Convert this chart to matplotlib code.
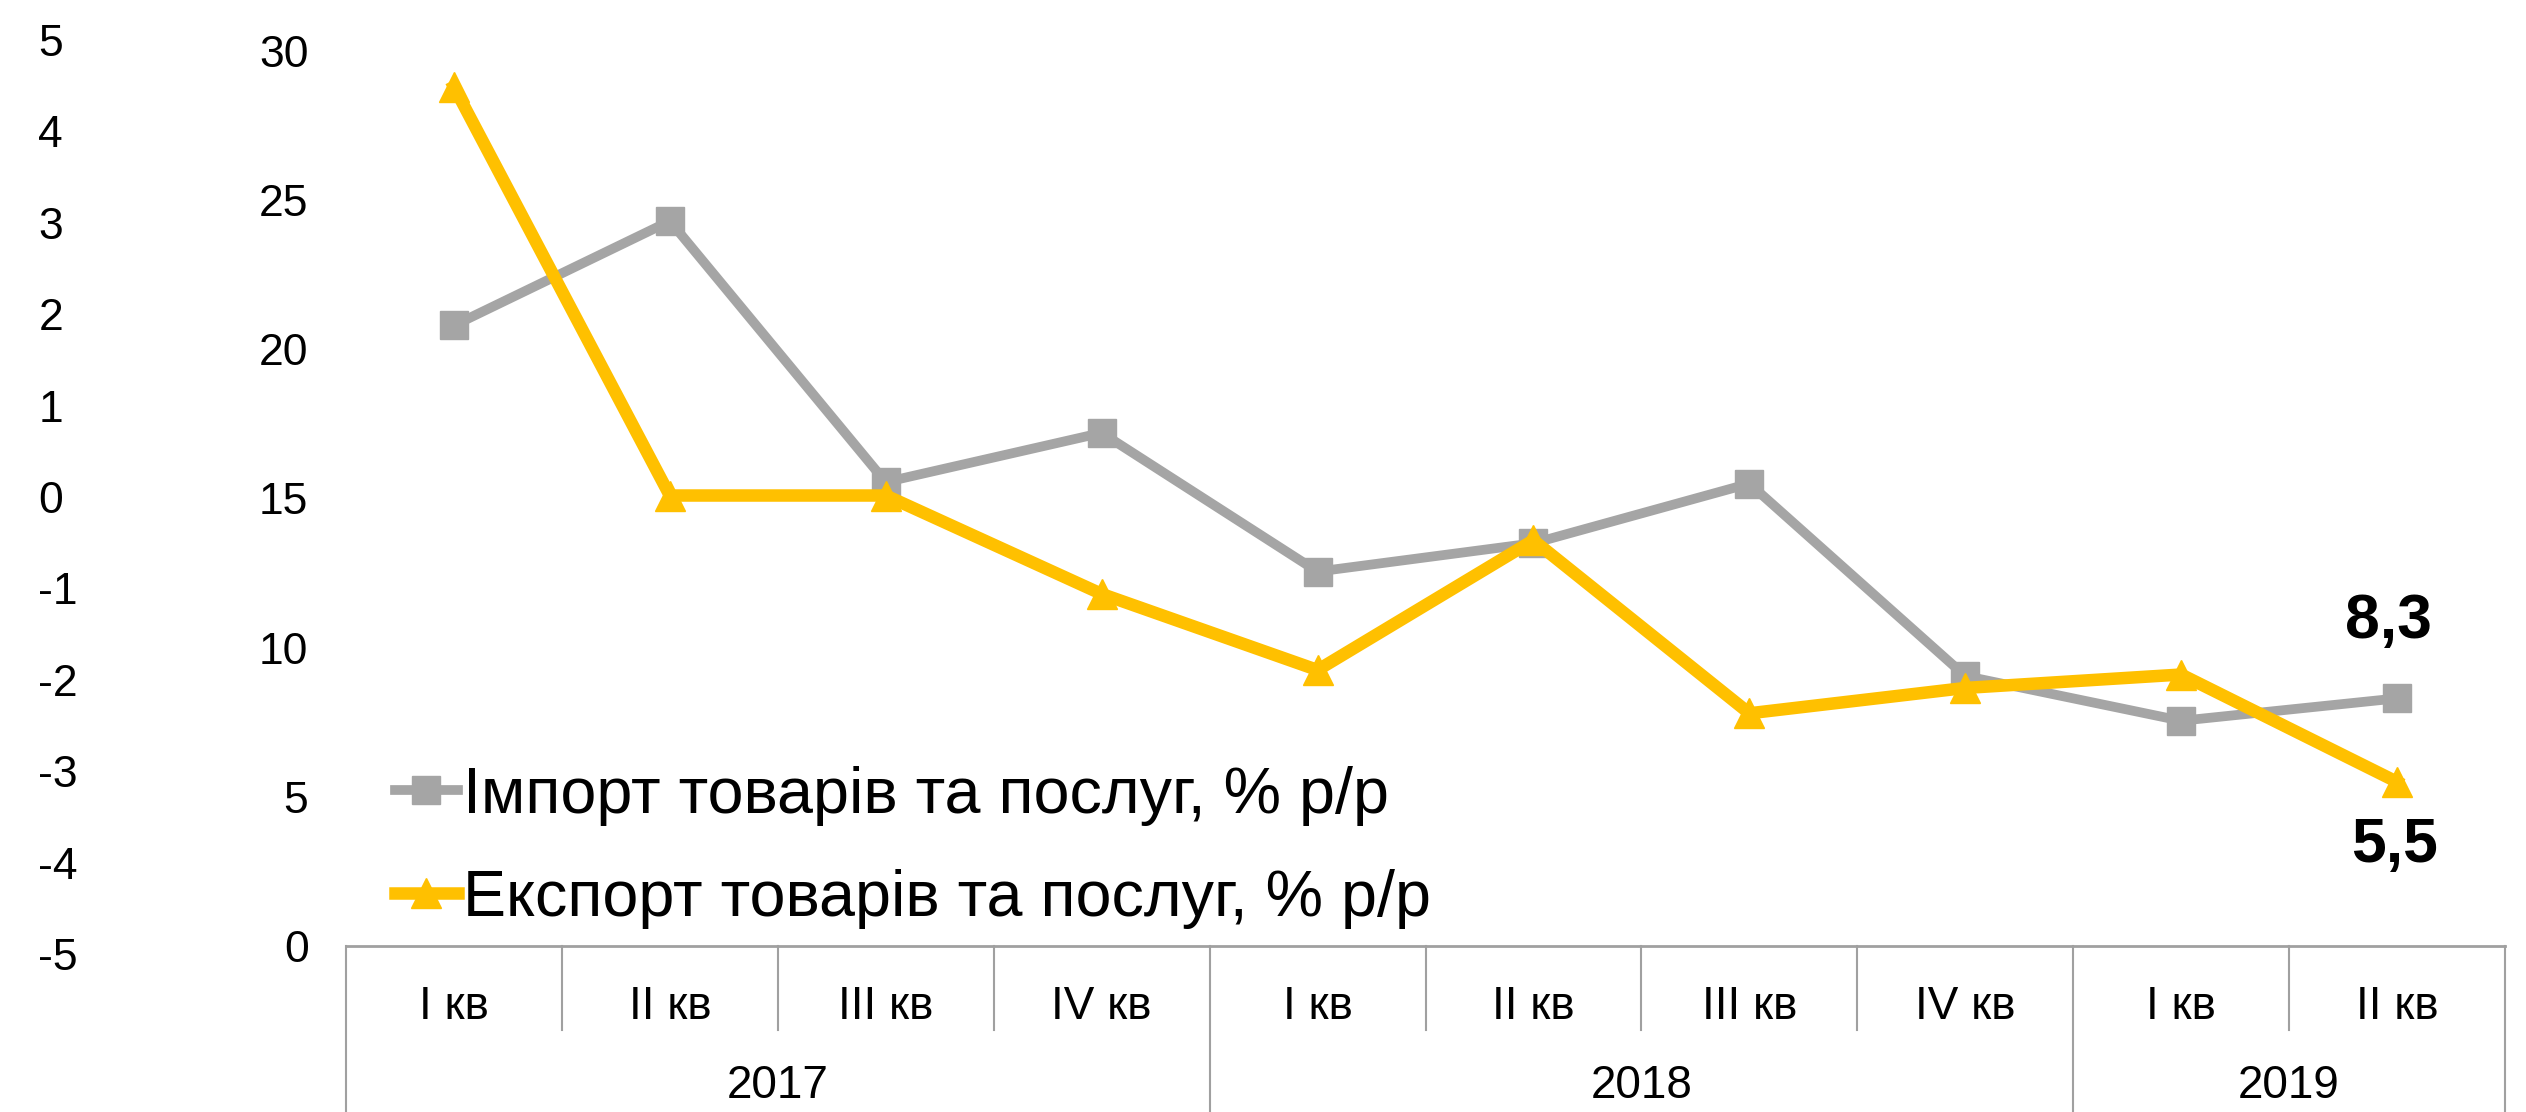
import matplotlib
matplotlib.use("Agg")
import matplotlib.pyplot as plt
from matplotlib.lines import Line2D

plt.rcParams["font.family"] = ["Liberation Sans", "DejaVu Sans"]
plt.rcParams["axes.unicode_minus"] = False

quarters = ["І кв", "ІІ кв", "ІІІ кв", "ІV кв", "І кв", "ІІ кв", "ІІІ кв", "ІV кв", "І кв", "ІІ кв"]
years = ["2017", "2018", "2019"]
year_counts = [4, 4, 2]

imports = [20.8, 24.3, 15.55, 17.2, 12.55, 13.5, 15.5, 9.05, 7.55, 8.3]
exports = [28.8, 15.1, 15.1, 11.8, 9.25, 13.6, 7.8, 8.65, 9.1, 5.5]

import_label = "Імпорт товарів та послуг, % р/р"
export_label = "Експорт товарів та послуг, % р/р"

primary_ticks = [0, 5, 10, 15, 20, 25, 30]
secondary_ticks = [-5, -4, -3, -2, -1, 0, 1, 2, 3, 4, 5]

GRAY = "#A5A5A5"
YELLOW = "#FFC000"
AXIS_GRAY = "#A0A0A0"

W, H = 2526, 1112
fig = plt.figure(figsize=(W / 100, H / 100), dpi=100)

ax = fig.add_axes([346 / W, (H - 946) / H, (2505 - 346) / W, (946 - 51) / H])
ax.set_xlim(-0.5, len(quarters) - 0.5)
ax.set_ylim(0, 30)
for s in ax.spines.values():
    s.set_visible(False)
ax.set_yticks(primary_ticks)
ax.tick_params(axis="y", length=0, pad=27, labelsize=32)
ax.set_xticks([])

x = list(range(len(quarters)))
ax.plot(x, imports, color=GRAY, lw=7, marker="s", ms=19.5, mec=GRAY, mfc=GRAY,
        clip_on=False, zorder=3)
ax.plot(x, exports, color=YELLOW, lw=9, marker="^", ms=21, mec=YELLOW, mfc=YELLOW,
        clip_on=False, zorder=4)

# data labels for the last quarter
ax.annotate(f"{imports[-1]:.1f}".replace(".", ","), (x[-1], imports[-1]),
            xytext=(-6, 55), textcoords="offset points", ha="center", va="center",
            fontsize=45, fontweight="bold")
ax.annotate(f"{exports[-1]:.1f}".replace(".", ","), (x[-1], exports[-1]),
            xytext=(-2, -46), textcoords="offset points", ha="center", va="center",
            fontsize=45, fontweight="bold")

# multi-level category axis
tr = ax.get_xaxis_transform()
axis_h = (946 - 51)
q_depth = -(1030 - 946) / axis_h
y_depth = -(1112 - 946) / axis_h
ax.plot([-0.5, len(quarters) - 0.5], [0, 0], transform=tr, color=AXIS_GRAY, lw=2,
        clip_on=False, zorder=2)
bounds = [-0.5]
for c in year_counts:
    bounds.append(bounds[-1] + c)
for i in range(len(quarters) + 1):
    b = i - 0.5
    depth = y_depth if b in bounds else q_depth
    ax.plot([b, b], [0, depth], transform=tr, color=AXIS_GRAY, lw=1.5, clip_on=False)
for i, q in enumerate(quarters):
    ax.text(i, -(1007 - 946) / axis_h, q, transform=tr, ha="center", va="center",
            fontsize=33)
for j, yr in enumerate(years):
    mid = (bounds[j] + bounds[j + 1]) / 2
    ax.text(mid, -(1086 - 946) / axis_h, yr, transform=tr, ha="center", va="center",
            fontsize=33)

# secondary (empty) axis at far left
ax2 = fig.add_axes([38 / W, (H - 954) / H, 0.0001, (954 - 40) / H])
ax2.set_ylim(-5, 5)
ax2.set_yticks(secondary_ticks)
ax2.yaxis.tick_right()
ax2.tick_params(axis="y", length=0, pad=0, labelsize=32)
ax2.set_xticks([])
for s in ax2.spines.values():
    s.set_visible(False)
ax2.patch.set_visible(False)

handles = [
    Line2D([], [], color=GRAY, lw=7, marker="s", ms=19.5, mec=GRAY, mfc=GRAY),
    Line2D([], [], color=YELLOW, lw=9, marker="^", ms=21, mec=YELLOW, mfc=YELLOW),
]
fig.legend(handles, [import_label, export_label], loc="upper left",
           bbox_to_anchor=(395 / W, (H - 766) / H), frameon=False, fontsize=46.5,
           borderpad=0, borderaxespad=0, handlelength=0.97, handletextpad=0.08,
           labelspacing=0.66)

fig.savefig("out.png", dpi=100)
